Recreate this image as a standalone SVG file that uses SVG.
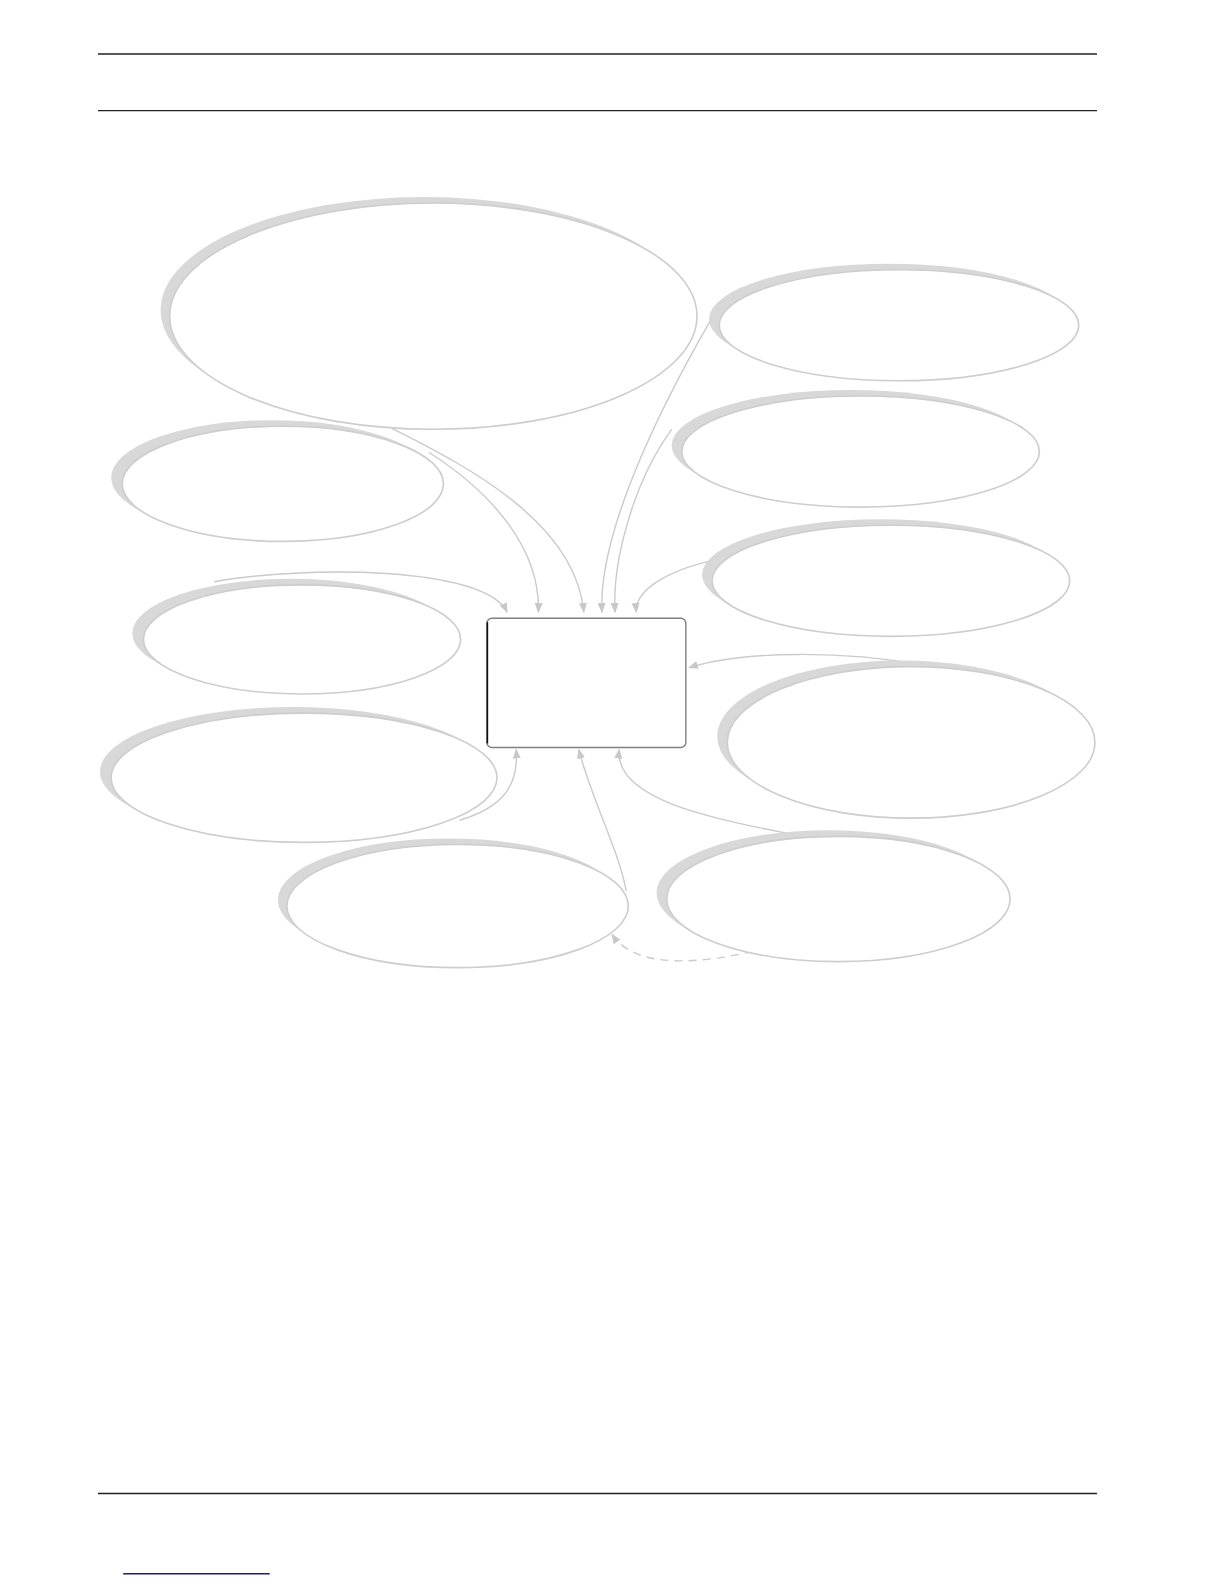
<svg xmlns="http://www.w3.org/2000/svg" width="1224" height="1584" viewBox="0 0 1224 1584">
<style>
.rule{stroke:#222;stroke-width:1.4;fill:none}
.sh{fill:#d8d8d8;stroke:none}
.el{fill:#fff;stroke:#cdcdcd;stroke-width:1.6}
.cn{fill:none;stroke:#cbcbcb;stroke-width:1.4;marker-end:url(#ah)}
.dash{stroke-dasharray:8 6}
</style>
<defs>
<marker id="ah" viewBox="0 0 10 8" refX="9" refY="4" markerWidth="10" markerHeight="8" markerUnits="userSpaceOnUse" orient="auto">
<path d="M0,0 L10,4 L0,8 z" fill="#c8c8c8"/>
</marker>
</defs>
<rect width="1224" height="1584" fill="#fff"/>
<g transform="scale(1.0101)">
<g id="page-rules">
<line class="rule" x1="97" y1="53.5" x2="1086" y2="53.5"/>
<line class="rule" x1="97" y1="109.5" x2="1086" y2="109.5"/>
<line class="rule" x1="97" y1="1478.5" x2="1086" y2="1478.5"/>
<line x1="122" y1="1558" x2="267" y2="1558" stroke="#1a1a8c" stroke-width="1.4"/>
</g>
<g id="connectors">
<path class="cn" d="M388 424 C470 465 570 520 578 606"/>
<path class="cn" d="M425 448 C490 490 535 545 533 606"/>
<path class="cn" d="M212 576 C300 560 480 560 502 606"/>
<path class="cn" d="M703 318 C650 410 592 530 596 606"/>
<path class="cn" d="M665 425 C625 480 606 560 609 606"/>
<path class="cn" d="M705 555 C660 565 628 585 630 606"/>
<path class="cn" d="M910 658 C840 645 740 643 682 661"/>
<path class="cn" d="M455 812 C495 800 514 780 511 742"/>
<path class="cn" d="M620 882 C612 840 585 790 573 742"/>
<path class="cn" d="M785 826 C700 810 608 790 613 742"/>
<path class="cn dash" d="M745 942 C700 952 630 962 606 925"/>
</g>
<g id="node-e1"><ellipse class="sh" cx="420" cy="307" rx="261" ry="112"/><ellipse class="el" cx="429" cy="313" rx="261" ry="112"/></g>
<g id="node-e2"><ellipse class="sh" cx="880" cy="316" rx="178" ry="55"/><ellipse class="el" cx="890" cy="322" rx="178" ry="55"/></g>
<g id="node-e3"><ellipse class="sh" cx="842" cy="441" rx="177" ry="55"/><ellipse class="el" cx="852" cy="447" rx="177" ry="55"/></g>
<g id="node-e4"><ellipse class="sh" cx="872" cy="569" rx="177" ry="55"/><ellipse class="el" cx="882" cy="575" rx="177" ry="55"/></g>
<g id="node-e5"><ellipse class="sh" cx="892" cy="729" rx="182" ry="75"/><ellipse class="el" cx="902" cy="735" rx="182" ry="75"/></g>
<g id="node-e6"><ellipse class="sh" cx="820" cy="884" rx="170" ry="62"/><ellipse class="el" cx="830" cy="890" rx="170" ry="62"/></g>
<g id="node-e7"><ellipse class="sh" cx="444" cy="891" rx="169" ry="61"/><ellipse class="el" cx="453" cy="897" rx="169" ry="61"/></g>
<g id="node-e8"><ellipse class="sh" cx="290" cy="764" rx="191" ry="64"/><ellipse class="el" cx="301" cy="770" rx="191" ry="64"/></g>
<g id="node-e9"><ellipse class="sh" cx="288" cy="627" rx="157" ry="54"/><ellipse class="el" cx="299" cy="633" rx="157" ry="54"/></g>
<g id="node-e10"><ellipse class="sh" cx="269" cy="473" rx="159" ry="57"/><ellipse class="el" cx="280" cy="479" rx="159" ry="57"/></g>
<g id="node-center">
<rect x="482" y="612" width="197" height="128" rx="5" fill="#fff" stroke="#808080" stroke-width="1.4"/>
<line x1="482.5" y1="616" x2="482.5" y2="736" stroke="#111" stroke-width="1.6"/>
</g>
</g>
</svg>
